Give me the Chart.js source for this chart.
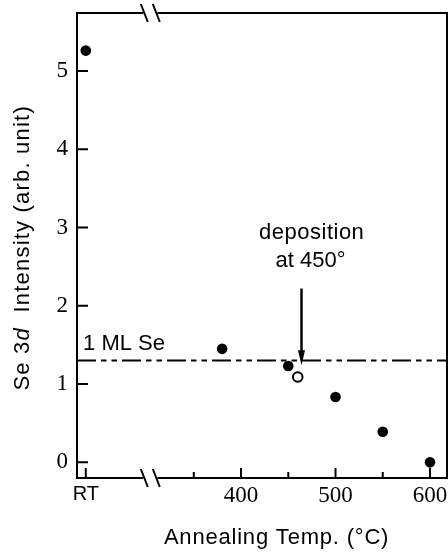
<!DOCTYPE html>
<html>
<head>
<meta charset="utf-8">
<script src="https://cdn.jsdelivr.net/npm/chart.js@4/dist/chart.umd.min.js"></script>
<style>
    html, body { margin: 0; padding: 0; background: #fff; }
    #wrap { width: 448px; height: 552px; }
</style>
</head>
<body>
<div id="wrap"><canvas id="chart"></canvas></div>
<script>
// Temperature axis: "RT" is placed just left of the axis break
const rtPosition = 235.7;
const xTickValues = [rtPosition, 350, 400, 450, 500, 550, 600];
const xTickLabels = ['RT', '', '400', '', '500', '', '600'];
const xMajorTicks = [rtPosition, 400, 500, 600];
const yTickValues = [0, 1, 2, 3, 4, 5];
const breakAt = 304;

// Se 3d intensity after annealing (filled) and deposition at 450° (open)
const annealTemp = [rtPosition, 380, 450, 500, 550, 600];
const annealIntensity = [5.26, 1.45, 1.23, 0.835, 0.39, 0.0];
const depositTemp = [460];
const depositIntensity = [1.09];

// 1 ML reference level and the arrow marking deposition at 450°
const monolayerLevel = 1.30;
const arrowTemp = 464;
const arrowFrom = 2.22;
const arrowTo = 1.24;

const SANS = '"Liberation Sans", Arial, sans-serif';
const SERIF = '"Liberation Serif", "Times New Roman", serif';

const toPoints = (xs, ys) => xs.map((x, i) => ({ x: x, y: ys[i] }));

const decorations = {
    id: 'decorations',
    afterLayout(chart) {
        // keep the plot frame running to the right edge of the figure
        const a = chart.chartArea, x = chart.scales.x;
        const right = chart.width - 1;
        if (a.right !== right) {
            a.right = right;
            a.width = a.right - a.left;
            x.right = right;
            x.width = x.right - x.left;
            x.configure();
        }
    },
    beforeDatasetsDraw(chart) {
        const { ctx, chartArea: a, scales: { x, y } } = chart;
        // dash-dot-dot line for 1 ML Se
        const ly = y.getPixelForValue(monolayerLevel);
        ctx.save();
        ctx.strokeStyle = '#000';
        ctx.lineWidth = 2;
        ctx.setLineDash([19, 5, 5.5, 5, 5.5, 5]);
        ctx.beginPath();
        ctx.moveTo(a.left, ly);
        ctx.lineTo(a.right, ly);
        ctx.stroke();
        ctx.restore();
    },
    afterDraw(chart) {
        const { ctx, chartArea: a, scales: { x, y } } = chart;
        ctx.save();
        ctx.strokeStyle = '#000';
        ctx.fillStyle = '#000';
        ctx.lineWidth = 2;

        // frame with gaps at the axis break
        const bx = x.getPixelForValue(breakAt);
        ctx.beginPath();
        ctx.moveTo(bx - 7, a.top); ctx.lineTo(a.left, a.top);
        ctx.lineTo(a.left, a.bottom); ctx.lineTo(bx - 7, a.bottom);
        ctx.moveTo(bx + 7, a.bottom); ctx.lineTo(a.right, a.bottom);
        ctx.lineTo(a.right, a.top); ctx.lineTo(bx + 7, a.top);
        ctx.stroke();

        // break marks
        ctx.beginPath();
        [a.top, a.bottom].forEach(edge => {
            [-6, 6].forEach(dx => {
                ctx.moveTo(bx + dx - 3.5, edge - 9);
                ctx.lineTo(bx + dx + 3.5, edge + 9);
            });
        });
        ctx.stroke();

        // inward ticks
        ctx.beginPath();
        xTickValues.forEach(v => {
            const px = x.getPixelForValue(v);
            const len = xMajorTicks.includes(v) ? 10 : 6;
            ctx.moveTo(px, a.bottom);
            ctx.lineTo(px, a.bottom - len);
        });
        yTickValues.forEach(v => {
            const py = y.getPixelForValue(v);
            ctx.moveTo(a.left, py);
            ctx.lineTo(a.left + 11, py);
        });
        ctx.stroke();

        // arrow
        const ax = x.getPixelForValue(arrowTemp);
        const ay1 = y.getPixelForValue(arrowFrom);
        const ay2 = y.getPixelForValue(arrowTo);
        ctx.lineWidth = 2.5;
        ctx.beginPath();
        ctx.moveTo(ax, ay1);
        ctx.lineTo(ax, ay2 - 12);
        ctx.stroke();
        ctx.beginPath();
        ctx.moveTo(ax - 3.5, ay2 - 15);
        ctx.lineTo(ax + 3.5, ay2 - 15);
        ctx.lineTo(ax, ay2);
        ctx.closePath();
        ctx.fill();

        // annotations
        ctx.font = '22px ' + SANS;
        ctx.textBaseline = 'alphabetic';
        ctx.textAlign = 'left';
        ctx.fillText('1 ML Se', x.getPixelForValue(232.8), y.getPixelForValue(1.435));
        ctx.textAlign = 'center';
        if ('letterSpacing' in ctx) ctx.letterSpacing = '0.5px';
        ctx.fillText('deposition', x.getPixelForValue(474.8), y.getPixelForValue(2.855));
        if ('letterSpacing' in ctx) ctx.letterSpacing = '0px';
        ctx.fillText('at 450°', x.getPixelForValue(473.5), y.getPixelForValue(2.50));

        // x axis title
        ctx.font = '22px ' + SANS;
        if ('letterSpacing' in ctx) ctx.letterSpacing = '0.8px';
        ctx.fillText('Annealing Temp. (°C)', x.getPixelForValue(437.6), chart.height - 8);

        // y axis title with italic d
        const parts = [['Se 3', 'normal'], ['d', 'italic'], ['  Intensity (arb. unit)', 'normal']];
        if ('letterSpacing' in ctx) ctx.letterSpacing = '1.2px';
        let total = 0;
        parts.forEach(p => { ctx.font = p[1] + ' 22px ' + SANS; total += ctx.measureText(p[0]).width; });
        ctx.translate(29, y.getPixelForValue(2.74));
        ctx.rotate(-Math.PI / 2);
        ctx.textAlign = 'left';
        let cx = -total / 2;
        parts.forEach(p => {
            ctx.font = p[1] + ' 22px ' + SANS;
            ctx.fillText(p[0], cx, 0);
            cx += ctx.measureText(p[0]).width;
        });
        ctx.restore();
    }
};

new Chart(document.getElementById('chart'), {
    type: 'scatter',
    data: {
        datasets: [
            {
                label: 'annealed',
                data: toPoints(annealTemp, annealIntensity),
                pointRadius: 5.3,
                pointBackgroundColor: '#000',
                pointBorderWidth: 0
            },
            {
                label: 'deposited at 450',
                data: toPoints(depositTemp, depositIntensity),
                pointRadius: 4.8,
                pointBackgroundColor: '#fff',
                pointBorderColor: '#000',
                pointBorderWidth: 2
            }
        ]
    },
    options: {
        animation: false,
        responsive: true,
        maintainAspectRatio: false,
        layout: { padding: { top: 13, right: 1, left: 0, bottom: 0 } },
        plugins: {
            legend: { display: false },
            tooltip: { enabled: false }
        },
        scales: {
            x: {
                type: 'linear',
                min: 226.4,
                max: 618,
                border: { display: false },
                grid: { display: false, drawTicks: false },
                afterBuildTicks: scale => { scale.ticks = xTickValues.map(v => ({ value: v })); },
                afterFit: scale => {
                    scale.height = 74;
                    scale.paddingLeft = 0;
                    scale.paddingRight = 0;
                },
                ticks: {
                    autoSkip: false,
                    maxRotation: 0,
                    padding: 4,
                    color: '#000',
                    font: ctx => ctx.index === 0
                        ? { family: SANS, size: 20 }
                        : { family: SERIF, size: 23 },
                    callback: (v, i) => xTickLabels[i]
                }
            },
            y: {
                min: -0.2,
                max: 5.74,
                border: { display: false },
                grid: { display: false, drawTicks: false },
                afterBuildTicks: scale => { scale.ticks = yTickValues.map(v => ({ value: v })); },
                afterFit: scale => {
                    scale.width = 77;
                    scale.paddingTop = 0;
                    scale.paddingBottom = 0;
                },
                ticks: {
                    padding: 9,
                    color: '#000',
                    font: { family: SERIF, size: 23 }
                }
            }
        }
    },
    plugins: [decorations]
});
</script>
</body>
</html>
